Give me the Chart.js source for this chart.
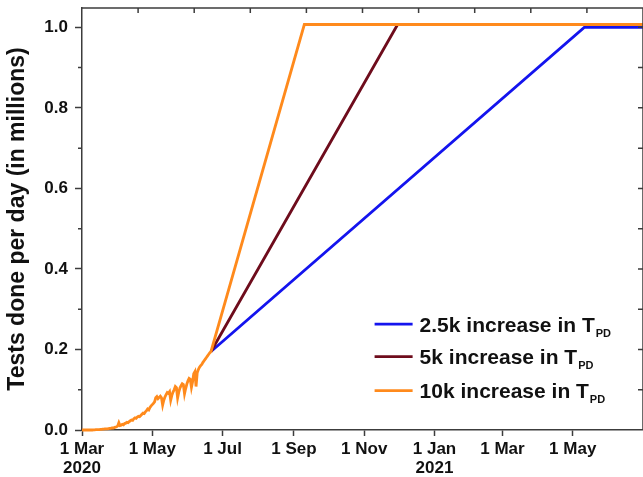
<!DOCTYPE html>
<html>
<head>
<meta charset="utf-8">
<script src="https://cdn.jsdelivr.net/npm/chart.js@4/dist/chart.umd.min.js"></script>
<style>
  html, body { margin: 0; padding: 0; background: #fff; }
  canvas { display: block; }
</style>
</head>
<body>
<canvas id="chart" width="643" height="477"></canvas>
<script>
// Daily tests (millions) from 1 Mar 2020 (day 0) up to 21 Jun 2020 (day 112)
const observedTests = [
  0, 0, 0, 0, 0, 0, 0, 0, 0, 0,
  0.0005, 0.0005, 0.001, 0.001, 0.001, 0.001, 0.0015, 0.0015,
  0.002, 0.002, 0.0025, 0.003, 0.003, 0.0035, 0.004, 0.004, 0.005, 0.005, 0.006, 0.007, 0.008,
  0.010, 0.018, 0.011, 0.012, 0.014, 0.013, 0.016, 0.017, 0.019, 0.018,
  0.021, 0.023, 0.025, 0.024, 0.028, 0.030, 0.029, 0.032, 0.034, 0.033,
  0.036, 0.039, 0.042, 0.041,
  0.045, 0.048, 0.052, 0.050, 0.056, 0.060, 0.063, 0.066,
  0.070, 0.080, 0.083, 0.078, 0.081, 0.084, 0.080, 0.062, 0.074, 0.082,
  0.088, 0.093, 0.091, 0.095, 0.074, 0.086, 0.094, 0.100, 0.108, 0.105,
  0.080, 0.094, 0.104, 0.110, 0.115, 0.113, 0.090, 0.103, 0.114, 0.122,
  0.128, 0.126, 0.106, 0.120, 0.140, 0.145, 0.108, 0.142, 0.150, 0.156,
  0.160, 0.163, 0.168, 0.172, 0.176, 0.180, 0.184, 0.188, 0.192, 0.195
];

// Projection scenarios: daily increase in tests per day (T_PD)
const scenarioNames  = ['2.5k increase in T', '5k increase in T', '10k increase in T'];
const scenarioColors = ['#1414ee', '#6e0c1c', '#ff8a1c'];
const plateauDay     = [436, 274, 193];   // day the 1 million/day capacity is reached
const plateauLevel   = [1.0, 1.007, 1.007];
const lastDay        = 487;               // 1 Jul 2021

// Axis ticks
const dateTickDays   = [0, 61, 122, 184, 245, 306, 365, 426];
const dateTickLabels = ['1 Mar', '1 May', '1 Jul', '1 Sep', '1 Nov', '1 Jan', '1 Mar', '1 May'];
const yearTickLabels = ['2020', '', '', '', '', '2021', '', ''];
const valueTicks     = [0, 0.2, 0.4, 0.6, 0.8, 1.0];

const FONT = "'Liberation Sans', Arial, sans-serif";
const AXIS_COLOR = '#3c3c3c';

// The observed history is carried by the top-most (10k) line; the other
// scenarios branch off from the last observed day.
function scenarioPoints(i, withHistory) {
  const last = observedTests.length - 1;
  const pts = withHistory
    ? observedTests.map((v, d) => ({ x: d, y: v }))
    : [{ x: last, y: observedTests[last] }];
  pts.push({ x: plateauDay[i], y: plateauLevel[i] });
  pts.push({ x: lastDay, y: plateauLevel[i] });
  return pts;
}

const datasets = scenarioNames.map((name, i) => ({
  label: name,
  data: scenarioPoints(i, i === scenarioNames.length - 1),
  borderColor: scenarioColors[i],
  borderWidth: 2.8,
  pointRadius: 0,
  tension: 0,
  fill: false,
  clip: false,
  order: scenarioNames.length - 1 - i   // 10k drawn on top
}));

// Frame, mirrored inward ticks, minor ticks and the legend with subscripts
const framePlugin = {
  id: 'frame',
  afterDraw(chart) {
    const { ctx, chartArea: a, scales: { x, y } } = chart;
    ctx.save();
    ctx.strokeStyle = AXIS_COLOR;
    ctx.lineWidth = 1.5;
    ctx.beginPath();
    ctx.moveTo(a.left, a.top);
    ctx.lineTo(a.right, a.top);
    ctx.lineTo(a.right, a.bottom);
    ctx.stroke();

    ctx.beginPath();
    // top axis: ten equal divisions, ticks pointing inward
    for (let i = 1; i < 10; i++) {
      const px = x.getPixelForValue(x.min + (x.max - x.min) * i / 10);
      ctx.moveTo(px, a.top);
      ctx.lineTo(px, a.top + 5);
    }
    // right axis: every 0.1, inward
    for (let k = 1; k <= 10; k++) {
      const py = y.getPixelForValue(k / 10);
      ctx.moveTo(a.right, py);
      ctx.lineTo(a.right - 5, py);
    }
    // left axis minor ticks (odd tenths), outward
    for (let k = 1; k <= 9; k += 2) {
      const py = y.getPixelForValue(k / 10);
      ctx.moveTo(a.left, py);
      ctx.lineTo(a.left - 4, py);
    }
    ctx.stroke();

    // legend
    const rowY = [y.getPixelForValue(0.263), y.getPixelForValue(0.182), y.getPixelForValue(0.098)];
    const lineX0 = x.getPixelForValue(254);
    const lineX1 = x.getPixelForValue(287);
    scenarioNames.forEach((name, i) => {
      const ry = rowY[i];
      ctx.strokeStyle = scenarioColors[i];
      ctx.lineWidth = 2.8;
      ctx.beginPath();
      ctx.moveTo(lineX0, ry);
      ctx.lineTo(lineX1, ry);
      ctx.stroke();
      ctx.fillStyle = '#111';
      ctx.textBaseline = 'alphabetic';
      ctx.textAlign = 'left';
      ctx.font = 'bold 21px ' + FONT;
      const tx = lineX1 + 7;
      ctx.fillText(name, tx, ry + 7.5);
      const w = ctx.measureText(name).width;
      ctx.font = 'bold 11px ' + FONT;
      ctx.fillText('PD', tx + w + 1, ry + 12.5);
    });
    ctx.restore();
  }
};

new Chart(document.getElementById('chart'), {
  type: 'line',
  data: { datasets },
  options: {
    responsive: false,
    animation: false,
    events: [],
    layout: { padding: { top: 8, right: 0, left: 0, bottom: 0 } },
    plugins: { legend: { display: false }, tooltip: { enabled: false } },
    scales: {
      x: {
        type: 'linear',
        min: 0,
        max: lastDay,
        afterBuildTicks: s => { s.ticks = dateTickDays.map(v => ({ value: v })); },
        afterFit: s => { s.height = 47; s.paddingLeft = 0; s.paddingRight = 0; },
        ticks: {
          autoSkip: false,
          maxRotation: 0,
          padding: 4,
          color: '#111',
          font: { family: FONT, weight: 'bold', size: 17, lineHeight: 1.1 },
          callback: (v, i) => yearTickLabels[i] ? [dateTickLabels[i], yearTickLabels[i]] : dateTickLabels[i]
        },
        grid: { drawOnChartArea: false, tickLength: 6, tickColor: AXIS_COLOR, tickWidth: 1.5 },
        border: { color: AXIS_COLOR, width: 1.5 }
      },
      y: {
        min: 0,
        max: 1.048,
        afterBuildTicks: s => { s.ticks = valueTicks.map(v => ({ value: v })); },
        afterFit: s => { s.width = 82; s.paddingTop = 0; s.paddingBottom = 0; },
        ticks: {
          padding: 7,
          color: '#111',
          font: { family: FONT, weight: 'bold', size: 17 },
          callback: v => v.toFixed(1)
        },
        grid: { drawOnChartArea: false, tickLength: 7, tickColor: AXIS_COLOR, tickWidth: 1.5 },
        border: { color: AXIS_COLOR, width: 1.5 },
        title: {
          display: true,
          text: 'Tests done per day (in millions)',
          color: '#111',
          font: { family: FONT, weight: 'bold', size: 23 },
          padding: { top: 4, bottom: 0 }
        }
      }
    }
  },
  plugins: [framePlugin]
});
</script>
</body>
</html>
